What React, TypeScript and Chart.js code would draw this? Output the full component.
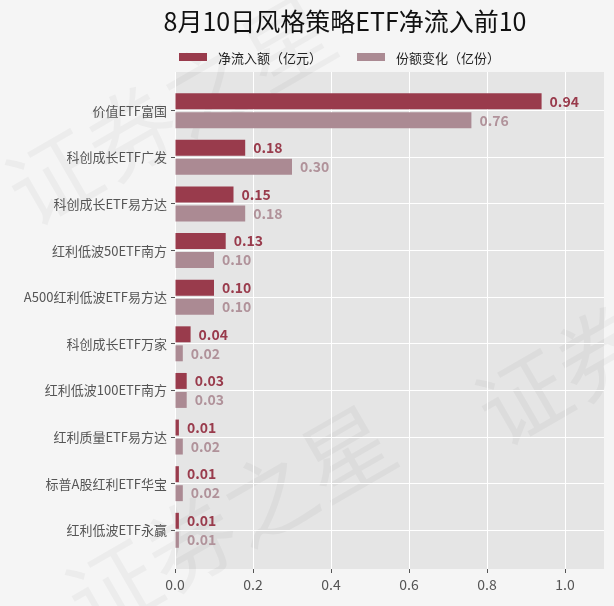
import { useEffect, useRef } from 'react';
import { Chart, registerables } from 'chart.js';

Chart.register(...registerables);

const categories = [
  '价值ETF富国',
  '科创成长ETF广发',
  '科创成长ETF易方达',
  '红利低波50ETF南方',
  'A500红利低波ETF易方达',
  '科创成长ETF万家',
  '红利低波100ETF南方',
  '红利质量ETF易方达',
  '标普A股红利ETF华宝',
  '红利低波ETF永赢',
];
const netInflow = [0.94, 0.18, 0.15, 0.13, 0.10, 0.04, 0.03, 0.01, 0.01, 0.01];
const shareChange = [0.76, 0.30, 0.18, 0.10, 0.10, 0.02, 0.03, 0.02, 0.02, 0.01];
const seriesNames = ['净流入额（亿元）', '份额变化（亿份）'];
const xTicks = [0, 0.2, 0.4, 0.6, 0.8, 1.0];

const FONT = '"Noto Sans CJK SC", "Noto Sans", sans-serif';
const barColors = ['#993b4c', '#ab8a93'];
const labelColors = ['#993b4c', '#b0929a'];

// background, plot panel and the faint watermark
const backdrop = {
  id: 'backdrop',
  beforeDraw(chart: any) {
    const { ctx, chartArea: a, width, height } = chart;
    ctx.save();
    ctx.fillStyle = '#f5f5f5';
    ctx.fillRect(0, 0, width, height);
    ctx.fillStyle = '#e5e5e5';
    ctx.fillRect(a.left, a.top, a.right - a.left, a.bottom - a.top);
    ctx.fillStyle = 'rgba(0,0,0,0.035)';
    ctx.font = `90px ${FONT}`;
    ctx.textAlign = 'center';
    ctx.textBaseline = 'middle';
    const marks = [
      [170, 110],
      [230, 520],
      [640, 330],
    ];
    marks.forEach(([x, y]) => {
      ctx.save();
      ctx.translate(x, y);
      ctx.rotate(-Math.PI / 6);
      ctx.fillText('证券之星', 0, 0);
      ctx.restore();
    });
    ctx.restore();
  },
};

// title + legend drawn by hand so they can sit off-centre like the original
const header = {
  id: 'header',
  afterDraw(chart: any) {
    const { ctx } = chart;
    ctx.save();
    ctx.fillStyle = '#111';
    ctx.font = `25px ${FONT}`;
    ctx.textAlign = 'center';
    ctx.textBaseline = 'middle';
    ctx.fillText('8月10日风格策略ETF净流入前10', 345, 21);

    ctx.font = `13px ${FONT}`;
    ctx.textAlign = 'left';
    const lx = [179, 357];
    seriesNames.forEach((name, i) => {
      ctx.fillStyle = barColors[i];
      ctx.fillRect(lx[i], 53, 28, 8);
      ctx.fillStyle = '#222';
      ctx.fillText(name, lx[i] + 39, 58);
    });
    ctx.restore();
  },
};

const valueLabels = {
  id: 'valueLabels',
  afterDatasetsDraw(chart: any) {
    const { ctx } = chart;
    ctx.save();
    ctx.font = `bold 14px ${FONT}`;
    ctx.textAlign = 'left';
    ctx.textBaseline = 'middle';
    chart.data.datasets.forEach((ds: any, di: number) => {
      const meta = chart.getDatasetMeta(di);
      ctx.fillStyle = labelColors[di];
      meta.data.forEach((bar: any, i: number) => {
        ctx.fillText(ds.data[i].x.toFixed(2), bar.x + 8, bar.y);
      });
    });
    ctx.restore();
  },
};

export default function App() {
  const canvasRef = useRef<HTMLCanvasElement>(null);
  const chartRef = useRef<any>(null);

  useEffect(() => {
    document.body.style.margin = '0';
    document.body.style.background = '#f5f5f5';
    if (!canvasRef.current) return;
    if (chartRef.current) chartRef.current.destroy();
    const ctx = canvasRef.current.getContext('2d');
    if (!ctx) return;

    chartRef.current = new Chart(ctx, {
      type: 'bar',
      data: {
        datasets: [netInflow, shareChange].map((vals, di) => ({
          label: seriesNames[di],
          data: vals.map((v, i) => ({ x: v, y: i })),
          backgroundColor: barColors[di],
          categoryPercentage: 0.815,
          barPercentage: 0.84,
        })),
      },
      options: {
        indexAxis: 'y',
        responsive: false,
        animation: false,
        layout: { padding: { top: 72, right: 10, bottom: 7, left: 0 } },
        plugins: {
          legend: { display: false },
          title: { display: false },
          tooltip: { enabled: false },
        },
        scales: {
          x: {
            type: 'linear',
            min: 0,
            max: 1.1,
            offset: false,
            afterBuildTicks: (s: any) => {
              s.ticks = xTicks.map((v) => ({ value: v }));
            },
            afterFit: (s: any) => {
              s.height = 30;
            },
            ticks: {
              callback: (v: any) => Number(v).toFixed(1),
              color: '#555',
              font: { family: FONT, size: 14 },
              padding: 3,
            },
            grid: { offset: false, color: '#ffffff', tickColor: '#555', tickLength: 4, lineWidth: 1 },
            border: { display: false },
          },
          y: {
            type: 'linear',
            min: -0.83,
            max: 9.83,
            reverse: true,
            offset: false,
            afterBuildTicks: (s: any) => {
              s.ticks = categories.map((_, i) => ({ value: i }));
            },
            afterFit: (s: any) => {
              s.width = 175;
            },
            ticks: {
              callback: (v: any) => categories[v] ?? '',
              color: '#555',
              font: { family: FONT, size: 13 },
              padding: 4,
              autoSkip: false,
            },
            grid: { offset: false, color: '#ffffff', tickColor: '#555', tickLength: 4, lineWidth: 1 },
            border: { display: false },
          },
        },
      },
      plugins: [backdrop, valueLabels, header],
    } as any);

    return () => {
      if (chartRef.current) chartRef.current.destroy();
    };
  }, []);

  return (
    <div style={{ width: 614, height: 606, background: '#f5f5f5' }}>
      <canvas ref={canvasRef} width={614} height={606} style={{ width: 614, height: 606 }}></canvas>
    </div>
  );
}
